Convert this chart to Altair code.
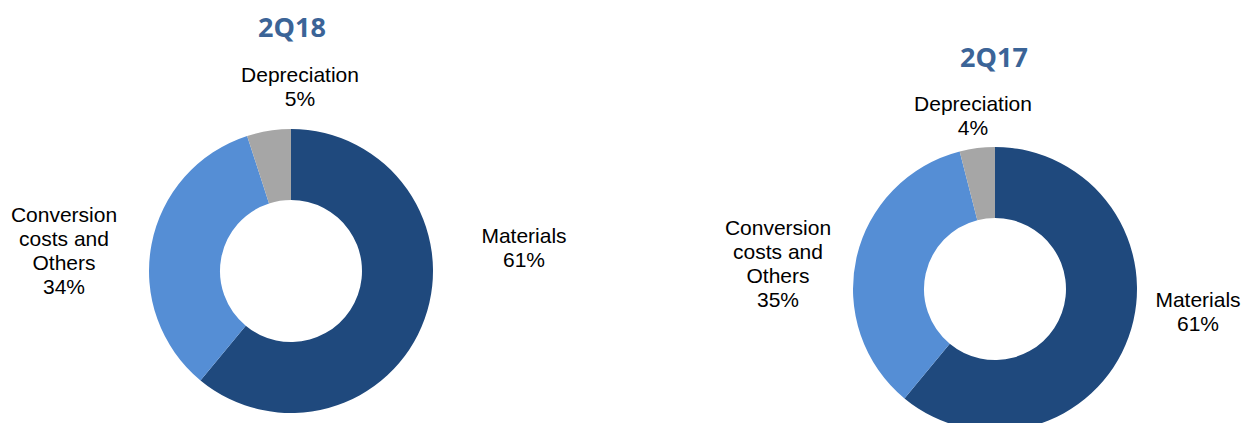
import altair as alt
import pandas as pd

quarters = ["2Q18", "2Q18", "2Q18", "2Q17", "2Q17", "2Q17"]
categories = ["Materials", "Conversion costs and Others", "Depreciation"] * 2
label_texts = ["Materials", "Conversion\ncosts and\nOthers", "Depreciation"] * 2
values = [61, 34, 5, 61, 35, 4]
order = [1, 2, 3, 1, 2, 3]

df = pd.DataFrame({
    "quarter": quarters,
    "category": categories,
    "value": values,
    "order": order,
    "label": [f"{t}\n{v}%" for t, v in zip(label_texts, values)],
})

colors = alt.Scale(
    domain=["Materials", "Conversion costs and Others", "Depreciation"],
    range=["#1F497D", "#558ED5", "#A6A6A6"],
)

base = alt.Chart(df)

def donut(q, cx, cy):
    return base.transform_filter(alt.datum.quarter == q).mark_arc(
        outerRadius=142, innerRadius=71, stroke=None
    ).encode(
        theta=alt.Theta("value:Q", stack=True),
        color=alt.Color("category:N", scale=colors, legend=None),
        order=alt.Order("order:Q"),
        x=alt.value(cx),
        y=alt.value(cy),
    )

def label(q, cat, cx, cy):
    return base.transform_filter(
        (alt.datum.quarter == q) & (alt.datum.category == cat)
    ).mark_text(
        font="Liberation Sans", fontSize=21, lineBreak="\n", lineHeight=24,
        align="center", baseline="alphabetic", color="#000000"
    ).encode(text="label:N", x=alt.value(cx), y=alt.value(cy))

def title(q, cx, cy):
    return base.transform_filter(
        (alt.datum.quarter == q) & (alt.datum.order == 1)
    ).mark_text(
        font="Open Sans", fontSize=27, fontWeight="bold", color="#3B6497",
        align="center", baseline="middle"
    ).encode(text="quarter:N", x=alt.value(cx), y=alt.value(cy))

chart = alt.layer(
    donut("2Q18", 291, 271),
    donut("2Q17", 995, 289),
    title("2Q18", 292, 29),
    title("2Q17", 994, 59),
    label("2Q18", "Depreciation", 300, 82),
    label("2Q18", "Conversion costs and Others", 64, 222),
    label("2Q18", "Materials", 524, 243),
    label("2Q17", "Depreciation", 973, 111),
    label("2Q17", "Conversion costs and Others", 778, 235),
    label("2Q17", "Materials", 1198, 307),
).properties(
    width=1242, height=423, padding=0, autosize=alt.AutoSizeParams(type="none")
).configure_view(stroke=None)

chart.save("out.html", embed_options={"renderer": "svg", "actions": False})
